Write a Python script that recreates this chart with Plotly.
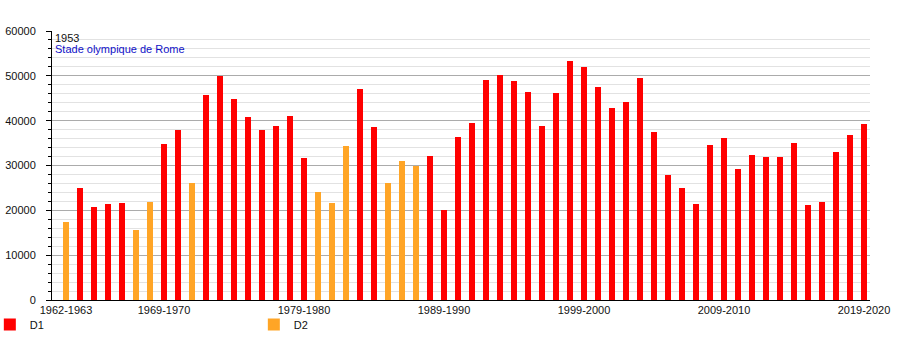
import plotly.graph_objects as go

# Seasons 1962-1963 .. 2019-2020
seasons = [f"{y}-{y + 1}" for y in range(1962, 2020)]

# Average attendance per season
attendance = [
    17500, 25000, 20700, 21450, 21700, 15650, 21900, 34750, 37900, 26050,
    45650, 49900, 44800, 40750, 37950, 38750, 41000, 31700, 24200, 21700,
    34400, 47000, 38550, 26000, 30950, 29900, 32050, 20050, 36300, 39400,
    49000, 50100, 48800, 46350, 38750, 46100, 53250, 51900, 47450, 42750,
    44100, 49450, 37400, 27850, 24950, 21400, 34500, 36100, 29200, 32300,
    31900, 31900, 34950, 21150, 21850, 32950, 36750, 39200,
]

# Division played each season
division = [
    "D2", "D1", "D1", "D1", "D1", "D2", "D2", "D1", "D1", "D2",
    "D1", "D1", "D1", "D1", "D1", "D1", "D1", "D1", "D2", "D2",
    "D2", "D1", "D1", "D2", "D2", "D2", "D1", "D1", "D1", "D1",
    "D1", "D1", "D1", "D1", "D1", "D1", "D1", "D1", "D1", "D1",
    "D1", "D1", "D1", "D1", "D1", "D1", "D1", "D1", "D1", "D1",
    "D1", "D1", "D1", "D1", "D1", "D1", "D1", "D1",
]

tick_labels = ["1962-1963", "1969-1970", "1979-1980", "1989-1990",
               "1999-2000", "2009-2010", "2019-2020"]

colors = {"D1": "#FF0000", "D2": "#FFA526"}

fig = go.Figure()
for div in ["D1", "D2"]:
    xs = [s for s, d in zip(seasons, division) if d == div]
    ys = [v for v, d in zip(attendance, division) if d == div]
    fig.add_trace(go.Bar(
        x=xs, y=ys, name=div, width=0.43,
        marker=dict(color=colors[div], line=dict(width=0)),
    ))

font = "Liberation Sans, Arial, sans-serif"

fig.update_layout(
    width=900, height=350,
    margin=dict(l=52, r=30, t=31, b=50, autoexpand=False),
    paper_bgcolor="white", plot_bgcolor="white",
    barmode="overlay", bargap=0,
    font=dict(family=font, size=11, color="#111111"),
    showlegend=True,
    legend=dict(
        orientation="h", x=-0.076, y=-0.037, xanchor="left", yanchor="top",
        entrywidth=219, entrywidthmode="pixels",
        font=dict(size=11, color="#111111"), bgcolor="rgba(0,0,0,0)",
        traceorder="normal", itemclick=False,
    ),
    xaxis=dict(
        type="category", categoryorder="array", categoryarray=seasons,
        range=[-1, 57.43], tickmode="array", tickvals=tick_labels,
        ticktext=tick_labels, showgrid=False, zeroline=False,
        showline=True, linecolor="#000000", linewidth=1, ticks="",
        tickfont=dict(size=11, color="#111111"), fixedrange=True,
    ),
    yaxis=dict(
        range=[0, 60000], dtick=10000, tick0=0, tickformat="d",
        showgrid=True, gridcolor="#ababab", gridwidth=1, zeroline=False,
        showline=True, linecolor="#000000", linewidth=1,
        ticks="outside", ticklen=5, tickcolor="#000000",
        tickfont=dict(size=11, color="#111111"), ticklabelstandoff=8,
        minor=dict(dtick=2000, ticks="outside", ticklen=3,
                   tickcolor="#000000", showgrid=True,
                   gridcolor="#e2e2e2", gridwidth=1),
        fixedrange=True,
    ),
    annotations=[
        dict(text="1953", xref="paper", yref="paper", x=0.001, y=1.004,
             xanchor="left", yanchor="top", showarrow=False,
             font=dict(size=11, color="#111111")),
        dict(text="Stade olympique de Rome", xref="paper", yref="paper",
             x=0.001, y=0.963, xanchor="left", yanchor="top",
             showarrow=False, font=dict(size=11, color="#1010C8")),
    ],
)

fig.write_html("out.html")
